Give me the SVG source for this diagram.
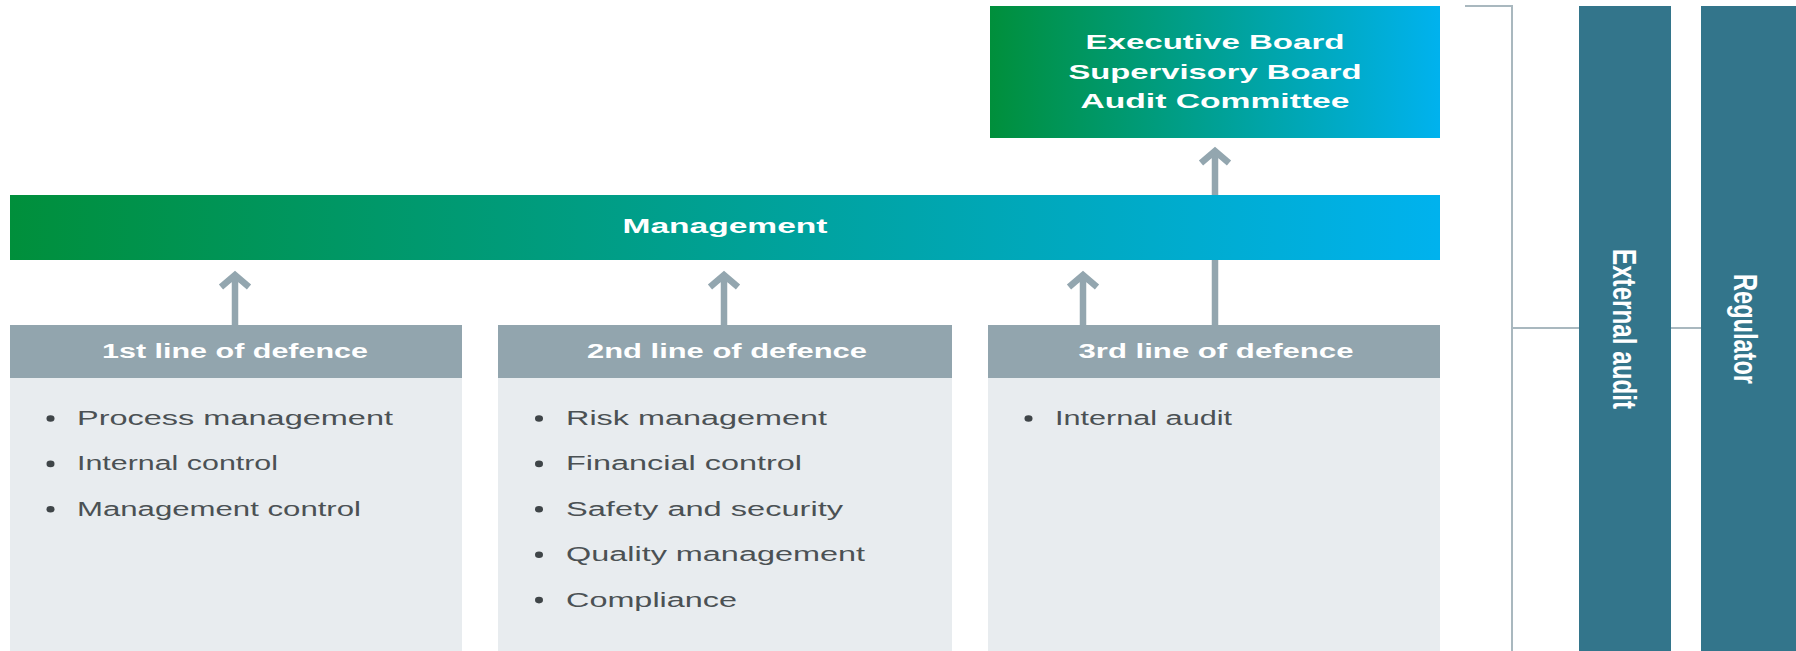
<svg xmlns="http://www.w3.org/2000/svg" width="1796" height="651" viewBox="0 0 1796 651">
<style>
.bg{fill:#ffffff}
.hdr{fill:#92a5ae}
.body{fill:#e8ecef}
.side{fill:#33758b}
.wb{font-family:"Liberation Sans",Arial,sans-serif;font-weight:bold;fill:#ffffff;text-anchor:middle}
.item{font-family:"Liberation Sans",Arial,sans-serif;font-size:20px;fill:#4b5154}
.dot{fill:#3f4548}
.arrow{fill:none;stroke:#93a6af;stroke-width:6.5}
.line{fill:none;stroke:#a9b8bf;stroke-width:2}
</style>
<defs>
<linearGradient id="grad" x1="0" y1="0" x2="1" y2="0">
<stop offset="0" stop-color="#008f3b"/>
<stop offset="1" stop-color="#00b2ee"/>
</linearGradient>
</defs>
<rect class="bg" x="0" y="0" width="1796" height="651"/>

<g id="connectors">
<path class="arrow" d="M235,325 V275 M221,287 L235,275 L249,287"/>
<path class="arrow" d="M724,325 V275 M710,287 L724,275 L738,287"/>
<path class="arrow" d="M1083,325 V275 M1069,287 L1083,275 L1097,287"/>
<path class="arrow" d="M1215,325 V151 M1201,163 L1215,151 L1229,163"/>
<path class="line" d="M1465,6 H1512 V651 M1512,328 H1579 M1671,328 H1701"/>
</g>

<g id="board">
<rect x="990" y="6" width="450" height="132" fill="url(#grad)"/>
<text class="wb" font-size="21" x="1215" y="49" textLength="259" lengthAdjust="spacingAndGlyphs">Executive Board</text>
<text class="wb" font-size="21" x="1215" y="79" textLength="293" lengthAdjust="spacingAndGlyphs">Supervisory Board</text>
<text class="wb" font-size="21" x="1215" y="108" textLength="269" lengthAdjust="spacingAndGlyphs">Audit Committee</text>
</g>

<g id="management">
<rect x="10" y="195" width="1430" height="65" fill="url(#grad)"/>
<text class="wb" font-size="21" x="725" y="233" textLength="205" lengthAdjust="spacingAndGlyphs">Management</text>
</g>

<g id="line1">
<rect class="hdr" x="10" y="325" width="452" height="53"/>
<rect class="body" x="10" y="378" width="452" height="273"/>
<text class="wb" font-size="19.5" x="235" y="357.5" textLength="266" lengthAdjust="spacingAndGlyphs">1st line of defence</text>
<ellipse class="dot" cx="50.5" cy="418.5" rx="4" ry="3.3"/>
<text class="item" x="77" y="425" textLength="316" lengthAdjust="spacingAndGlyphs">Process management</text>
<ellipse class="dot" cx="50.5" cy="463.9" rx="4" ry="3.3"/>
<text class="item" x="77" y="470.4" textLength="201" lengthAdjust="spacingAndGlyphs">Internal control</text>
<ellipse class="dot" cx="50.5" cy="509.3" rx="4" ry="3.3"/>
<text class="item" x="77" y="515.8" textLength="284" lengthAdjust="spacingAndGlyphs">Management control</text>
</g>

<g id="line2">
<rect class="hdr" x="498" y="325" width="454" height="53"/>
<rect class="body" x="498" y="378" width="454" height="273"/>
<text class="wb" font-size="19.5" x="727" y="357.5" textLength="280" lengthAdjust="spacingAndGlyphs">2nd line of defence</text>
<ellipse class="dot" cx="539" cy="418.5" rx="4" ry="3.3"/>
<text class="item" x="566" y="425" textLength="261" lengthAdjust="spacingAndGlyphs">Risk management</text>
<ellipse class="dot" cx="539" cy="463.9" rx="4" ry="3.3"/>
<text class="item" x="566" y="470.4" textLength="236" lengthAdjust="spacingAndGlyphs">Financial control</text>
<ellipse class="dot" cx="539" cy="509.3" rx="4" ry="3.3"/>
<text class="item" x="566" y="515.8" textLength="277" lengthAdjust="spacingAndGlyphs">Safety and security</text>
<ellipse class="dot" cx="539" cy="554.7" rx="4" ry="3.3"/>
<text class="item" x="566" y="561.2" textLength="299" lengthAdjust="spacingAndGlyphs">Quality management</text>
<ellipse class="dot" cx="539" cy="600.1" rx="4" ry="3.3"/>
<text class="item" x="566" y="606.6" textLength="171" lengthAdjust="spacingAndGlyphs">Compliance</text>
</g>

<g id="line3">
<rect class="hdr" x="988" y="325" width="452" height="53"/>
<rect class="body" x="988" y="378" width="452" height="273"/>
<text class="wb" font-size="19.5" x="1216" y="357.5" textLength="275" lengthAdjust="spacingAndGlyphs">3rd line of defence</text>
<ellipse class="dot" cx="1028.5" cy="418.5" rx="4" ry="3.3"/>
<text class="item" x="1055" y="425" textLength="177" lengthAdjust="spacingAndGlyphs">Internal audit</text>
</g>

<g id="external-audit">
<rect class="side" x="1579" y="6" width="92" height="645"/>
<text class="wb" font-size="21" transform="translate(1624.7,329) scale(1.6,1) rotate(90)" x="0" y="7.5" textLength="160" lengthAdjust="spacingAndGlyphs">External audit</text>
</g>

<g id="regulator">
<rect class="side" x="1701" y="6" width="95" height="645"/>
<text class="wb" font-size="21" transform="translate(1746.5,329) scale(1.6,1) rotate(90)" x="0" y="7.5" textLength="110" lengthAdjust="spacingAndGlyphs">Regulator</text>
</g>
</svg>
